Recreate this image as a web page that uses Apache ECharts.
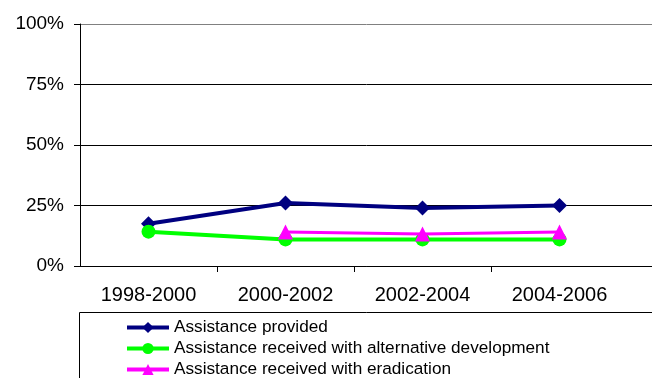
<!DOCTYPE html>
<html>
<head>
<meta charset="utf-8">
<script src="https://cdn.jsdelivr.net/npm/echarts@6/dist/echarts.min.js"></script>
<style>
  html, body { margin: 0; padding: 0; background: #fff; }
  #chart { width: 652px; height: 378px; }
</style>
</head>
<body>
<div id="chart"></div>
<script>
// Periods on the x axis (the trailing blank slot keeps the plot running past the last period)
var periods = ['1998-2000', '2000-2002', '2002-2004', '2004-2006', ''];

// Shares per period (fractions of 1)
var assistanceProvided = [0.175, 0.26, 0.24, 0.25, null];
var altDevelopment = [0.142, 0.11, 0.11, 0.11, null];
var eradication = [null, 0.14, 0.132, 0.14, null];

var yTicks = [0, 0.25, 0.5, 0.75, 1];

var chart = echarts.init(document.getElementById('chart'), null, { renderer: 'canvas' });

var font = '"Liberation Sans", Arial, sans-serif';

chart.setOption({
  animation: false,
  backgroundColor: '#ffffff',
  grid: { left: 80, top: 24, width: 685, height: 242, containLabel: false, outerBoundsMode: 'none' },
  xAxis: {
    type: 'category',
    data: periods,
    boundaryGap: true,
    axisLine: { lineStyle: { color: '#000', width: 1 } },
    axisTick: {
      show: true, length: 6, inside: false,
      lineStyle: { color: '#000' },
      interval: function (i) { return i >= 1 && i <= 3; }
    },
    axisLabel: { color: '#000', fontFamily: font, fontSize: 20, margin: 19, interval: 0 },
    splitLine: { show: false }
  },
  yAxis: {
    type: 'value',
    min: yTicks[0],
    max: yTicks[yTicks.length - 1],
    interval: 0.25,
    axisLine: { show: true, lineStyle: { color: '#000', width: 1 } },
    axisTick: { show: true, length: 6, lineStyle: { color: '#000' } },
    axisLabel: {
      color: '#000', fontFamily: font, fontSize: 19, margin: 16,
      formatter: function (v) { return Math.round(v * 100) + '%'; }
    },
    splitLine: { show: true, lineStyle: { color: ['#000', '#000', '#000', '#000', '#808080'], width: 1 } }
  },
  legend: {
    orient: 'vertical',
    left: 125,
    top: 317,
    height: 100,
    itemWidth: 42,
    itemHeight: 14,
    itemGap: 0,
    padding: 0,
    lineStyle: { width: 4 },
    textStyle: { color: '#000', fontFamily: font, fontSize: 17.2, lineHeight: 21, padding: [0, 0, 0, 0] },
    data: ['Assistance provided', 'Assistance received with alternative development', 'Assistance received with eradication']
  },
  graphic: [{
    type: 'rect',
    shape: { x: 79.5, y: 312.5, width: 640, height: 100 },
    style: { fill: 'none', stroke: '#000', lineWidth: 1 },
    z: -1
  }],
  series: [
    {
      name: 'Assistance provided',
      type: 'line',
      data: assistanceProvided,
      color: '#000080',
      symbol: 'diamond',
      symbolSize: 15,
      lineStyle: { width: 4, color: '#000080' },
      itemStyle: { color: '#000080' },
      z: 3
    },
    {
      name: 'Assistance received with alternative development',
      type: 'line',
      data: altDevelopment,
      color: '#00ff00',
      symbol: 'circle',
      symbolSize: 14,
      lineStyle: { width: 4, color: '#00ff00' },
      itemStyle: { color: '#00ff00' },
      z: 4
    },
    {
      name: 'Assistance received with eradication',
      type: 'line',
      data: eradication,
      color: '#ff00ff',
      symbol: 'triangle',
      symbolSize: 15,
      lineStyle: { width: 3, color: '#ff00ff' },
      itemStyle: { color: '#ff00ff' },
      z: 5
    }
  ]
});
</script>
</body>
</html>
